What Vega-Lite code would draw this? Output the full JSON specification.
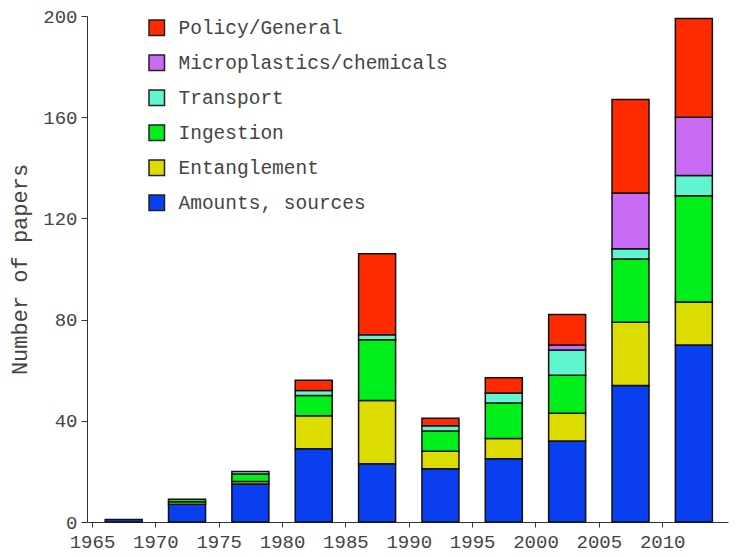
{
  "$schema": "https://vega.github.io/schema/vega-lite/v6.json",
  "autosize": "none",
  "width": 641,
  "height": 506,
  "padding": {"left": 87, "top": 16, "right": 9, "bottom": 35},
  "background": "white",
  "config": {
    "font": "Liberation Mono",
    "view": {"stroke": null},
    "axis": {"domainColor": "#333333", "tickColor": "#333333", "labelColor": "#444444", "titleColor": "#444444", "labelFont": "Liberation Mono", "titleFont": "Liberation Mono", "grid": false}
  },
  "data": {
    "values": [
      {"mid": 1967.5, "Amounts, sources": 1, "Entanglement": 0, "Ingestion": 0, "Transport": 0, "Microplastics/chemicals": 0, "Policy/General": 0},
      {"mid": 1972.5, "Amounts, sources": 7, "Entanglement": 1, "Ingestion": 1, "Transport": 0, "Microplastics/chemicals": 0, "Policy/General": 0},
      {"mid": 1977.5, "Amounts, sources": 15, "Entanglement": 1, "Ingestion": 3, "Transport": 1, "Microplastics/chemicals": 0, "Policy/General": 0},
      {"mid": 1982.5, "Amounts, sources": 29, "Entanglement": 13, "Ingestion": 8, "Transport": 2, "Microplastics/chemicals": 0, "Policy/General": 4},
      {"mid": 1987.5, "Amounts, sources": 23, "Entanglement": 25, "Ingestion": 24, "Transport": 2, "Microplastics/chemicals": 0, "Policy/General": 32},
      {"mid": 1992.5, "Amounts, sources": 21, "Entanglement": 7, "Ingestion": 8, "Transport": 2, "Microplastics/chemicals": 0, "Policy/General": 3},
      {"mid": 1997.5, "Amounts, sources": 25, "Entanglement": 8, "Ingestion": 14, "Transport": 4, "Microplastics/chemicals": 0, "Policy/General": 6},
      {"mid": 2002.5, "Amounts, sources": 32, "Entanglement": 11, "Ingestion": 15, "Transport": 10, "Microplastics/chemicals": 2, "Policy/General": 12},
      {"mid": 2007.5, "Amounts, sources": 54, "Entanglement": 25, "Ingestion": 25, "Transport": 4, "Microplastics/chemicals": 22, "Policy/General": 37},
      {"mid": 2012.5, "Amounts, sources": 70, "Entanglement": 17, "Ingestion": 42, "Transport": 8, "Microplastics/chemicals": 23, "Policy/General": 39}
    ]
  },
  "transform": [
    {"fold": ["Amounts, sources", "Entanglement", "Ingestion", "Transport", "Microplastics/chemicals", "Policy/General"], "as": ["topic", "n"]},
    {"filter": "datum.n > 0"},
    {"calculate": "indexof(['Amounts, sources','Entanglement','Ingestion','Transport','Microplastics/chemicals','Policy/General'], datum.topic)", "as": "stackorder"}
  ],
  "mark": {"type": "bar", "size": 37, "stroke": "#111111", "strokeWidth": 1.5},
  "encoding": {
    "x": {
      "field": "mid", "type": "quantitative",
      "scale": {"domain": [1965, 2014.8], "nice": false, "zero": false},
      "axis": {"values": [1965, 1970, 1975, 1980, 1985, 1990, 1995, 2000, 2005, 2010], "format": "d", "title": null, "labelFontSize": 19, "tickSize": 5, "labelPadding": 5, "labelFlush": false}
    },
    "y": {
      "field": "n", "type": "quantitative", "stack": "zero",
      "scale": {"domain": [0, 200], "nice": false},
      "axis": {"values": [0, 40, 80, 120, 160, 200], "title": "Number of papers", "labelFontSize": 19, "titleFontSize": 22, "titleFontWeight": "normal", "tickSize": 6, "labelPadding": 4, "titlePadding": 11}
    },
    "color": {
      "field": "topic", "type": "nominal",
      "sort": ["Policy/General", "Microplastics/chemicals", "Transport", "Ingestion", "Entanglement", "Amounts, sources"],
      "scale": {
        "domain": ["Policy/General", "Microplastics/chemicals", "Transport", "Ingestion", "Entanglement", "Amounts, sources"],
        "range": ["#ff2a00", "#c86bf5", "#5ff5cf", "#00ee1a", "#dcdc00", "#0a3ff0"]
      },
      "legend": {
        "orient": "none", "legendX": 60, "legendY": 2, "title": null,
        "symbolType": "square", "symbolSize": 240, "symbolStrokeColor": "#222222", "symbolStrokeWidth": 1.5,
        "labelFontSize": 19.5, "labelColor": "#444444", "labelOffset": 12, "rowPadding": 13, "labelLimit": 400
      }
    },
    "order": {"field": "stackorder", "type": "quantitative", "sort": "ascending"}
  }
}
